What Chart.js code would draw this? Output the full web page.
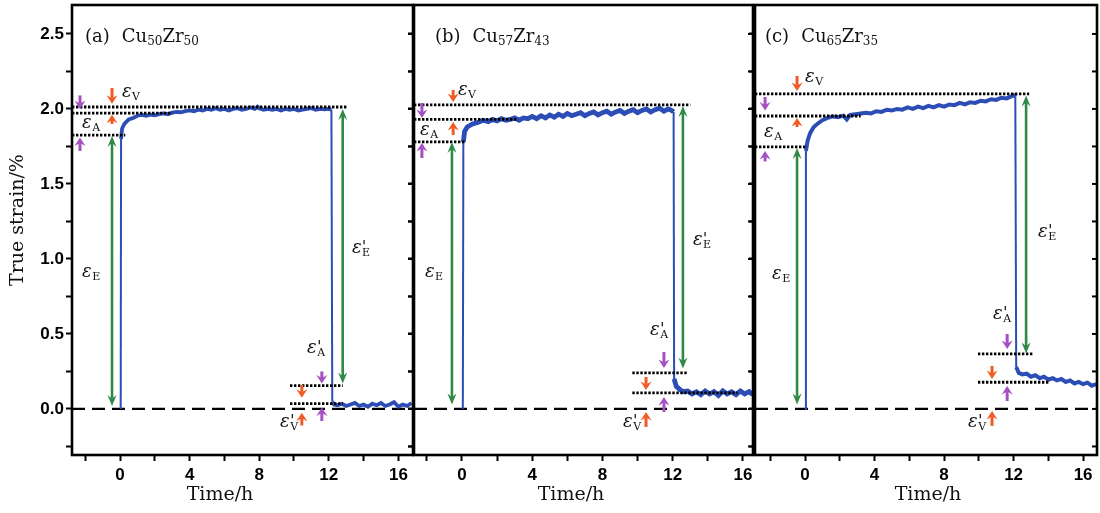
<!DOCTYPE html>
<html><head><meta charset="utf-8">
<script src="https://cdn.jsdelivr.net/npm/chart.js@4.4.1/dist/chart.umd.min.js"></script>
<style>
html,body{margin:0;padding:0;background:#fff;}
#wrap{position:relative;width:1100px;height:513px;overflow:hidden;background:#fff;}
canvas{position:absolute;top:0;}
</style></head><body><div id="wrap">
<canvas id="ca"></canvas><canvas id="cb"></canvas><canvas id="cc"></canvas></div>
<script>
// ---------- data ----------
const xTickValues = [-2, 0, 2, 4, 6, 8, 10, 12, 14, 16];
const xTickLabels = ['', '0', '', '4', '', '8', '', '12', '', '16'];
const yTickValues = [-0.25, 0, 0.25, 0.5, 0.75, 1.0, 1.25, 1.5, 1.75, 2.0, 2.25, 2.5];
const yTickLabels = ['', '0.0', '', '0.5', '', '1.0', '', '1.5', '', '2.0', '', '2.5'];
const yRange = [-0.307, 2.693];

const panelNames = ['(a)', '(b)', '(c)'];
const compositions = [['50', '50'], ['57', '43'], ['65', '35']];

// panel (a) Cu50Zr50
const xRangeA = [-2.76, 16.84];
const timeA = [0.04,0.06,0.12,0.25,
 0.5,0.75,1.0,1.25,1.5,1.75,2.0,2.25,2.5,2.75,3.0,3.25,3.5,3.75,4.0,4.25,4.5,4.75,5.0,5.25,5.5,5.75,6.0,6.25,6.5,6.75,7.0,7.25,7.5,7.75,
 7.9,
 8.0,8.25,8.5,8.75,9.0,9.25,9.5,9.75,10.0,10.25,10.5,10.75,11.0,11.25,11.5,11.75,12.0,
 12.15,12.2,12.3,
 12.5,12.75,13.0,13.25,13.5,13.75,14.0,14.25,14.5,14.75,15.0,15.25,15.5,15.75,16.0,16.25,16.5,16.75];
const strainA = [0.00,1.80,1.87,1.90,
 1.93,1.94,1.955,1.96,1.955,1.962,1.958,1.965,1.97,1.965,1.975,1.98,1.978,1.985,1.99,1.985,1.995,1.99,2.0,1.995,2.005,1.995,2.0,1.99,2.0,2.005,1.995,2.0,2.01,2.0,
 2.015,
 2.005,1.995,2.0,1.995,2.0,1.99,2.0,1.995,2.0,1.99,1.995,2.0,2.005,1.995,2.0,1.998,2.0,
 1.995,0.05,0.03,
 0.025,0.035,0.02,0.03,0.04,0.02,0.03,0.015,0.035,0.025,0.04,0.02,0.03,0.045,0.015,0.03,0.02,0.04];
const levelsA = [[2.013,-2.76,13.1],[1.972,-2.76,3.0],[1.825,-2.76,0.3],[0.155,9.77,12.8],[0.035,9.77,12.8]];
const arrowsA = [[-0.46,0.02,1.82,'g',1],[12.8,2.0,0.17,'g',1],
 [-0.46,2.14,2.035,'o',0],[-0.46,1.90,1.962,'o',0],[-2.3,2.09,2.0,'p',0],[-2.3,1.72,1.81,'p',0],
 [10.45,0.16,0.075,'o',0],[10.45,-0.11,-0.025,'o',0],[11.6,0.25,0.17,'p',0],[11.6,-0.08,0.01,'p',0]];
const labelsA = [[0.11,2.113,'V',0],[-2.18,1.907,'A',0],[-2.18,0.913,'E',0],[13.33,1.073,'E',1],[10.75,0.407,'A',1],[9.2,-0.087,'V',1]];

// panel (b) Cu57Zr43
const xRangeB = [-2.73, 16.57];
const timeB = [0.05,0.08,0.15,0.3,0.6,0.9,1.2,1.5,
 1.75,2.0,2.25,2.5,2.75,3.0,3.25,3.5,3.75,4.0,4.25,4.5,4.75,5.0,5.25,5.5,5.75,6.0,6.25,6.5,6.75,7.0,7.25,7.5,7.75,8.0,8.25,8.5,8.75,9.0,9.25,9.5,9.75,10.0,10.25,10.5,10.75,11.0,11.25,11.5,11.75,
 11.95,12.05,12.08,12.2,12.4,12.6,
 12.85,13.1,13.35,13.6,13.85,14.1,14.35,14.6,14.85,15.1,15.35,15.6,15.85,16.1,16.35,
 16.55];
const strainB = [0.0,1.78,1.85,1.88,1.90,1.91,1.925,1.915,
 1.93,1.92,1.935,1.925,1.93,1.94,1.925,1.94,1.935,1.95,1.935,1.955,1.94,1.96,1.945,1.965,1.95,1.97,1.955,1.965,1.975,1.955,1.97,1.98,1.96,1.975,1.985,1.965,1.98,1.99,1.97,1.985,1.995,1.975,1.99,2.0,1.98,1.995,2.005,1.985,2.0,
 1.99,1.98,0.20,0.15,0.13,0.115,
 0.12,0.10,0.115,0.095,0.12,0.10,0.115,0.09,0.12,0.10,0.115,0.095,0.12,0.10,0.115,
 0.095];
const levelsB = [[2.027,-2.73,13.0],[1.93,-2.73,3.1],[1.78,-2.73,0.2],[0.24,9.7,12.85],[0.107,9.7,15.7]];
const arrowsB = [[-0.57,0.03,1.78,'g',1],[12.58,2.02,0.27,'g',1],
 [-0.5,2.127,2.047,'o',0],[-0.5,1.827,1.913,'o',0],[-2.28,2.04,1.94,'p',0],[-2.28,1.673,1.773,'p',0],
 [10.48,0.213,0.127,'o',0],[10.48,-0.12,-0.02,'o',0],[11.5,0.38,0.273,'p',0],[11.5,-0.02,0.08,'p',0]];
const labelsB = [[-0.23,2.127,'V',0],[-2.39,1.86,'A',0],[-2.11,0.913,'E',0],[13.15,1.127,'E',1],[10.71,0.527,'A',1],[9.17,-0.087,'V',1]];

// panel (c) Cu65Zr35
const xRangeC = [-2.88, 16.8];
const timeC = [0.0,0.05,0.15,0.3,0.5,0.7,
 1.0,1.3,1.6,1.9,2.2,
 2.4,
 2.6,2.9,3.2,3.5,3.8,4.1,4.4,4.7,5.0,5.3,5.6,5.9,6.2,6.5,6.8,7.1,7.4,7.7,8.0,8.3,8.6,8.9,9.2,9.5,9.8,10.1,10.4,10.7,11.0,11.3,11.6,11.9,
 12.05,12.1,12.15,12.3,
 12.5,12.75,13.0,13.25,13.5,13.75,14.0,14.25,14.5,14.75,15.0,15.25,15.5,15.75,16.0,16.25,16.5,16.75];
const strainC = [0.0,1.72,1.79,1.84,1.88,1.90,
 1.925,1.94,1.95,1.945,1.955,
 1.93,
 1.96,1.965,1.97,1.975,1.97,1.985,1.98,1.995,1.99,2.0,1.995,2.01,2.0,2.015,2.005,2.02,2.01,2.025,2.015,2.03,2.025,2.04,2.03,2.045,2.04,2.055,2.05,2.065,2.06,2.075,2.07,2.085,
 2.09,2.08,0.28,0.24,
 0.23,0.235,0.215,0.225,0.205,0.215,0.195,0.205,0.19,0.2,0.18,0.19,0.17,0.18,0.165,0.175,0.155,0.165];
const levelsC = [[2.10,-2.88,12.9],[1.953,-2.88,3.2],[1.747,-2.88,0.1],[0.367,9.95,13.1],[0.178,9.95,14.0]];
const arrowsC = [[-0.46,0.03,1.74,'g',1],[12.72,2.09,0.37,'g',1],
 [-0.46,2.22,2.12,'o',0],[-0.46,1.88,1.94,'o',0],[-2.3,2.08,1.99,'p',0],[-2.3,1.65,1.72,'p',0],
 [10.76,0.287,0.2,'o',0],[10.76,-0.113,-0.013,'o',0],[11.63,0.5,0.4,'p',0],[11.63,0.053,0.153,'p',0]];
const labelsC = [[0.0,2.213,'V',0],[-2.36,1.847,'A',0],[-1.9,0.9,'E',0],[13.41,1.18,'E',1],[10.82,0.633,'A',1],[9.38,-0.087,'V',1]];

// ---------- styling ----------
const COL = {blue:'#2c4db6', g:'#2f8a48', o:'#f15a24', p:'#a450c2'};
const SERIF = '"DejaVu Serif", "Liberation Serif", serif';
const TICKFONT = {family:'"Liberation Sans", Arial, sans-serif', weight:'bold', size:17};

function head(ctx, x, y, dir, hl, hw) {
  ctx.beginPath();
  ctx.moveTo(x, y);
  ctx.lineTo(x - hw, y - dir * hl);
  ctx.lineTo(x, y - dir * hl * 0.65);
  ctx.lineTo(x + hw, y - dir * hl);
  ctx.closePath();
  ctx.fill();
}
function drawArrow(ctx, x, y1, y2, color, dbl) {
  const hl = dbl ? 11 : 8.5, hw = dbl ? 4.5 : 5.5;
  const dir = Math.sign(y2 - y1);
  ctx.save();
  ctx.strokeStyle = color; ctx.fillStyle = color; ctx.lineWidth = dbl ? 2.6 : 3;
  ctx.beginPath();
  ctx.moveTo(x, dbl ? y1 + dir * hl * 0.6 : y1);
  ctx.lineTo(x, y2 - dir * hl * 0.6);
  ctx.stroke();
  head(ctx, x, y2, dir, hl, hw);
  if (dbl) head(ctx, x, y1, -dir, hl, hw);
  ctx.restore();
}
function drawEps(ctx, x, y, sub, prime) {
  ctx.save();
  ctx.fillStyle = '#111';
  ctx.textBaseline = 'middle'; ctx.textAlign = 'left';
  ctx.font = 'italic 18px ' + SERIF;
  ctx.fillText('ε', x, y);
  const w = ctx.measureText('ε').width;
  ctx.font = '11px ' + SERIF;
  ctx.fillText(sub, x + w + 0.5, y + 5);
  if (prime) {
    ctx.font = 'italic 15px "DejaVu Sans", sans-serif';
    ctx.textBaseline = 'alphabetic';
    ctx.fillText("'", x + w + 0.5, y + 4);
  }
  ctx.restore();
}

const decoPlugin = {
  id: 'deco',
  afterDatasetsDraw(chart, args, o) {
    const {ctx, scales: {x, y}} = chart;
    o.arrows.forEach(([t, a, b, c, d]) => {
      drawArrow(ctx, x.getPixelForValue(t), y.getPixelForValue(a), y.getPixelForValue(b), COL[c], d);
    });
  },
  afterDraw(chart, args, o) {
    const {ctx, chartArea: ca, scales: {x, y}} = chart;
    ctx.save();
    // frame
    ctx.strokeStyle = '#000'; ctx.lineWidth = 2.6;
    ctx.strokeRect(ca.left, ca.top, ca.right - ca.left, ca.bottom - ca.top);
    // inward ticks on the right
    ctx.lineWidth = 2;
    y.ticks.forEach(t => {
      const py = y.getPixelForValue(t.value);
      ctx.beginPath(); ctx.moveTo(ca.right, py); ctx.lineTo(ca.right - 5, py); ctx.stroke();
    });
    // epsilon labels
    o.labels.forEach(([t, v, s, p]) => drawEps(ctx, x.getPixelForValue(t), y.getPixelForValue(v), s, p));
    // panel title
    ctx.fillStyle = '#111'; ctx.textBaseline = 'alphabetic'; ctx.textAlign = 'left';
    let tx = ca.left + o.titleOffset;
    const ty = ca.top + 37;
    ctx.font = '18px ' + SERIF;
    ctx.fillText(o.name, tx, ty);
    tx += ctx.measureText(o.name).width + 12;
    const parts = [['Cu', 0], [o.comp[0], 1], ['Zr', 0], [o.comp[1], 1]];
    parts.forEach(([s, sub]) => {
      ctx.font = (sub ? '12px ' : '18px ') + SERIF;
      ctx.fillText(s, tx, ty + (sub ? 3 : 0));
      tx += ctx.measureText(s).width;
    });
    // axis titles
    ctx.font = '19px ' + SERIF;
    ctx.textAlign = 'center'; ctx.textBaseline = 'middle';
    ctx.fillText('Time/h', o.xTitleX, 495);
    if (o.yTitle) {
      ctx.translate(18, 220); ctx.rotate(-Math.PI / 2);
      ctx.fillText('True strain/%', 0, 0);
    }
    ctx.restore();
  }
};

function makeChart(id, p) {
  const cv = document.getElementById(id);
  cv.width = p.w; cv.height = 513; cv.style.left = p.left + 'px';
  cv.style.width = p.w + 'px'; cv.style.height = '513px';
  const pts = p.time.map((t, i) => ({x: t, y: p.strain[i]}));
  const datasets = [
    {data: pts, borderColor: COL.blue, borderWidth: p.lw, pointRadius: 0, order: 2,
     segment: {borderWidth: c => Math.abs(c.p1.parsed.y - c.p0.parsed.y) > 0.3 ? 2 : p.lw}},
    ...p.levels.map(([v, a, b]) => ({data: [{x: a, y: v}, {x: b, y: v}], borderColor: '#000',
       borderWidth: 2.8, borderDash: [2.4, 1.6], pointRadius: 0, order: 1})),
    {data: [{x: p.xr[0], y: 0}, {x: p.xr[1], y: 0}], borderColor: '#000', borderWidth: 2.2,
     borderDash: [13, 7], pointRadius: 0, order: 3}
  ];
  const gridOpt = {display: true, drawOnChartArea: false, drawTicks: true, tickLength: 6, tickWidth: 2, tickColor: '#000'};
  const noPad = s => { s.paddingTop = 0; s.paddingBottom = 0; s.paddingLeft = 0; s.paddingRight = 0; };
  return new Chart(cv, {
    type: 'line',
    data: {datasets},
    options: {
      responsive: false, animation: false, devicePixelRatio: 1,
      layout: {padding: {left: 0, right: p.padR, top: 5, bottom: 0}},
      plugins: {legend: {display: false}, tooltip: {enabled: false},
        deco: {arrows: p.arrows, labels: p.labels, name: p.name, comp: p.comp,
               titleOffset: p.titleOffset, xTitleX: p.xTitleX, yTitle: p.yTitle}},
      elements: {line: {tension: 0}},
      scales: {
        x: {type: 'linear', min: p.xr[0], max: p.xr[1],
            afterBuildTicks: s => { s.ticks = xTickValues.map(v => ({value: v})); },
            afterFit: s => { s.height = 58; noPad(s); },
            ticks: {callback: (v, i) => xTickLabels[i], font: TICKFONT, color: '#000', padding: 4, maxRotation: 0, autoSkip: false},
            grid: gridOpt, border: {display: false}},
        y: {type: 'linear', min: yRange[0], max: yRange[1],
            afterBuildTicks: s => { s.ticks = yTickValues.map(v => ({value: v})); },
            afterFit: s => { s.width = p.yw; noPad(s); },
            ticks: {display: p.yTitle, callback: (v, i) => yTickLabels[i], font: TICKFONT, color: '#000', padding: 2, autoSkip: false},
            grid: gridOpt, border: {display: false}}
      }
    },
    plugins: [decoPlugin]
  });
}

makeChart('ca', {w: 414, left: 0, padR: 1, yw: 72, lw: 3.8, xr: xRangeA, time: timeA, strain: strainA,
  levels: levelsA, arrows: arrowsA, labels: labelsA, name: panelNames[0], comp: compositions[0],
  titleOffset: 13, xTitleX: 220, yTitle: true});
makeChart('cb', {w: 350, left: 408, padR: 5, yw: 6, lw: 4.8, xr: xRangeB, time: timeB, strain: strainB,
  levels: levelsB, arrows: arrowsB, labels: labelsB, name: panelNames[1], comp: compositions[1],
  titleOffset: 21, xTitleX: 571 - 408, yTitle: false});
makeChart('cc', {w: 351, left: 749, padR: 3, yw: 6, lw: 4, xr: xRangeC, time: timeC, strain: strainC,
  levels: levelsC, arrows: arrowsC, labels: labelsC, name: panelNames[2], comp: compositions[2],
  titleOffset: 10, xTitleX: 928 - 749, yTitle: false});
</script></body></html>
